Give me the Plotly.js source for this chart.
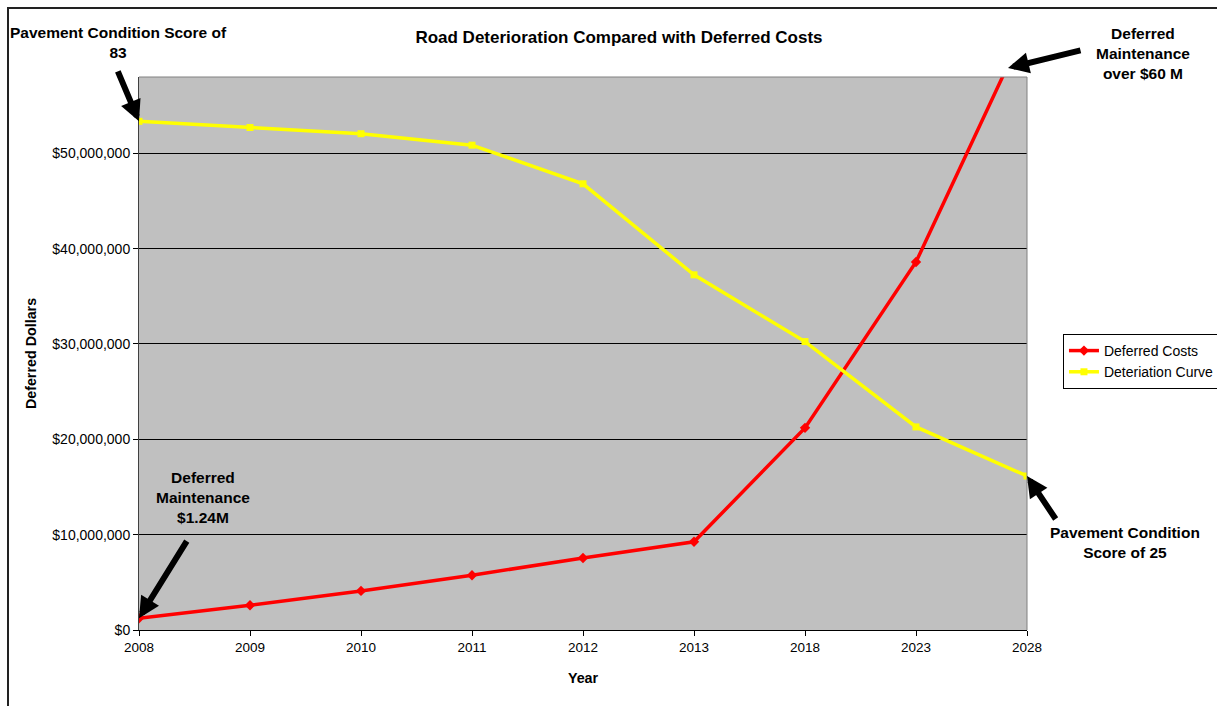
<!DOCTYPE html>
<html><head><meta charset="utf-8">
<script src="https://cdn.plot.ly/plotly-3.0.1.min.js"></script>
<style>
html,body{margin:0;padding:0;background:#fff;overflow:hidden}
#wrap{position:relative;width:1217px;height:706px}
#chart{width:1217px;height:706px}
#frame{position:absolute;left:7px;top:7px;width:2000px;height:2000px;border-left:2px solid #222;border-top:2px solid #222;pointer-events:none}
</style>
</head><body><div id="wrap"><div id="chart"></div><div id="frame"></div></div>
<script>
const years = ['2008','2009','2010','2011','2012','2013','2018','2023','2028'];
const deferredCosts = [1240000, 2600000, 4100000, 5750000, 7550000, 9250000, 21200000, 38600000, 63500000];
const deteriorationCurve = [53350000, 52700000, 52050000, 50850000, 46800000, 37250000, 30250000, 21300000, 16150000];
const seriesNames = ['Deferred Costs', 'Deteriation Curve'];
const yTickVals = [0, 10000000, 20000000, 30000000, 40000000, 50000000];
const yMax = 58000000;
const chartTitle = 'Road Deterioration Compared with Deferred Costs';
const xTitle = 'Year';
const yTitle = 'Deferred Dollars';
const noteTopLeft = 'Pavement Condition Score of<br>83';
const noteTopRight = 'Deferred<br>Maintenance<br>over $60 M';
const noteBottomLeft = 'Deferred<br>Maintenance<br>$1.24M';
const noteBottomRight = 'Pavement Condition<br>Score of 25';

const FONT = 'Arial, "Liberation Sans", sans-serif';

const traces = [
  {x: years, y: deferredCosts, name: seriesNames[0], type: 'scatter', mode: 'lines+markers',
   line: {color: '#ff0000', width: 3.5}, marker: {symbol: 'diamond', size: 8, color: '#ff0000'}},
  {x: years, y: deteriorationCurve, name: seriesNames[1], type: 'scatter', mode: 'lines+markers',
   line: {color: '#ffff00', width: 3.5}, marker: {symbol: 'square', size: 7, color: '#ffff00'}}
];

const first = years.indexOf('2008');
const last = years.indexOf('2028');

const arrowStyle = {showarrow: true, arrowhead: 2, arrowsize: 0.7, arrowwidth: 6, arrowcolor: '#000',
  standoff: 0, text: ' ', font: {size: 1}, axref: 'pixel', ayref: 'pixel'};
const noteFont = {family: FONT, size: 15.5, color: '#000'};

const layout = {
  width: 1217, height: 706,
  paper_bgcolor: '#ffffff', plot_bgcolor: '#c0c0c0',
  margin: {l: 139, r: 190, t: 77, b: 76, autoexpand: false},
  font: {family: FONT, color: '#000'},
  title: {text: '<b>' + chartTitle + '</b>', font: {family: FONT, size: 17, color: '#000'},
          xref: 'container', x: 0.5086, xanchor: 'center', yref: 'container', y: 0.9476, yanchor: 'middle'},
  xaxis: {type: 'category', range: [0, 8], showgrid: false, zeroline: false,
          showline: true, linecolor: '#000', linewidth: 1,
          ticks: 'outside', ticklen: 5, tickcolor: '#000', tickfont: {family: FONT, size: 13.5, color: '#000'},
          title: {text: '<b>' + xTitle + '</b>', font: {family: FONT, size: 14.3, color: '#000'}, standoff: 18}},
  yaxis: {range: [0, yMax], tickvals: yTickVals, tickformat: '$,.0f',
          showgrid: true, gridcolor: '#000', gridwidth: 1, zeroline: false,
          showline: true, linecolor: '#404040', linewidth: 1,
          ticks: 'outside', ticklen: 5, tickcolor: '#000', tickfont: {family: FONT, size: 14, color: '#000'},
          title: {text: '<b>' + yTitle + '</b>', font: {family: FONT, size: 14.3, color: '#000'}, standoff: 12}},
  legend: {x: 1.0405, xanchor: 'left', y: 0.5353, yanchor: 'top', bgcolor: '#ffffff',
           bordercolor: '#000', borderwidth: 1, font: {family: FONT, size: 14, color: '#000'}},
  shapes: [
    {type: 'line', xref: 'paper', yref: 'paper', x0: 1, x1: 1, y0: 0, y1: 1, line: {color: '#808080', width: 1}},
    {type: 'line', xref: 'paper', yref: 'paper', x0: 0, x1: 1, y0: 1, y1: 1, line: {color: '#808080', width: 1}}
  ],
  annotations: [
    Object.assign({}, arrowStyle, {xref: 'x', yref: 'y', x: first, y: deteriorationCurve[first], ax: -22, ay: -52}),
    Object.assign({}, arrowStyle, {xref: 'paper', yref: 'paper', x: 0.9786, y: 1.0163, ax: 74, ay: -18}),
    Object.assign({}, arrowStyle, {xref: 'x', yref: 'y', x: first, y: deferredCosts[first], ax: 49, ay: -79}),
    Object.assign({}, arrowStyle, {xref: 'x', yref: 'y', x: last, y: deteriorationCurve[last], ax: 30, ay: 45}),
    {xref: 'paper', yref: 'paper', x: -0.0231, y: 1.0624, xanchor: 'center', yanchor: 'middle', showarrow: false,
     text: '<b>' + noteTopLeft + '</b>', font: noteFont},
    {xref: 'paper', yref: 'paper', x: 1.1306, y: 1.0425, xanchor: 'center', yanchor: 'middle', showarrow: false,
     text: '<b>' + noteTopRight + '</b>', font: noteFont},
    {xref: 'paper', yref: 'paper', x: 0.0721, y: 0.2387, xanchor: 'center', yanchor: 'middle', showarrow: false,
     text: '<b>' + noteBottomLeft + '</b>', font: noteFont},
    {xref: 'paper', yref: 'paper', x: 1.1104, y: 0.1582, xanchor: 'center', yanchor: 'middle', showarrow: false,
     text: '<b>' + noteBottomRight + '</b>', font: noteFont}
  ]
};

Plotly.newPlot('chart', traces, layout, {displayModeBar: false, staticPlot: true});
</script>
</body></html>
